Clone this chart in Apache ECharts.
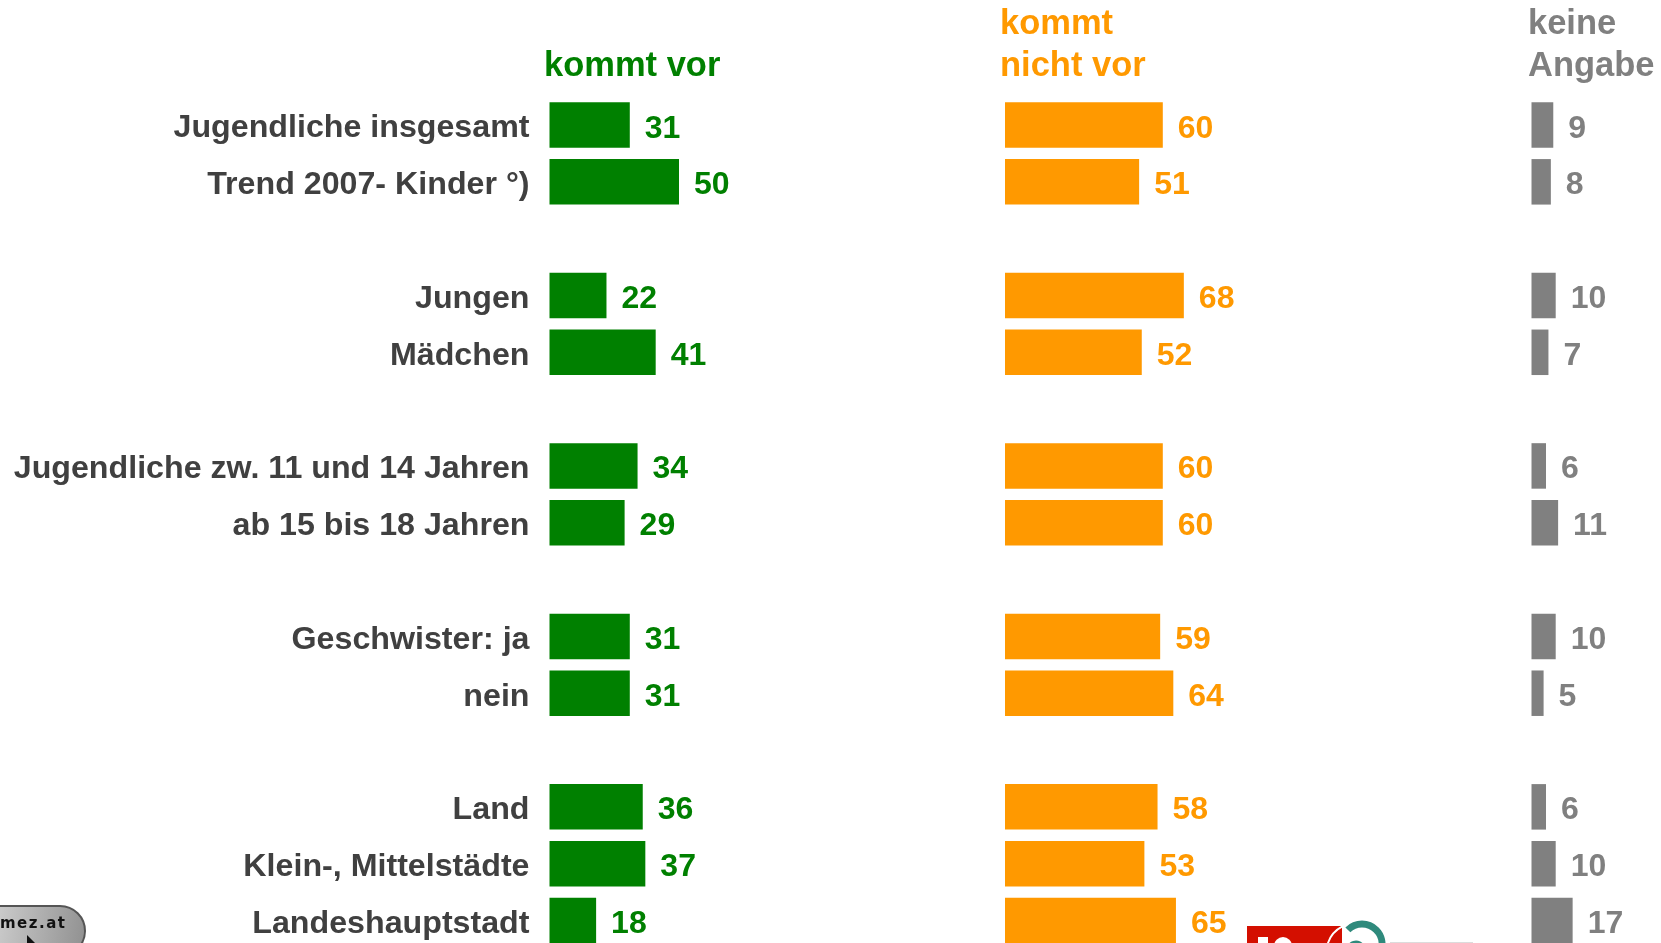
<!DOCTYPE html>
<html><head><meta charset="utf-8">
<style>html,body{margin:0;padding:0;background:#fff;overflow:hidden}#c{width:1661px;height:943px}</style>
<script src="https://cdn.jsdelivr.net/npm/echarts@6/dist/echarts.min.js"></script></head>
<body><div id="c"></div>
<script>
const categories = ['Jugendliche insgesamt','Trend 2007- Kinder °)','','Jungen','Mädchen','','Jugendliche zw. 11 und 14 Jahren','ab 15 bis 18 Jahren','','Geschwister: ja','nein','','Land','Klein-, Mittelstädte','Landeshauptstadt'];
const kommtVor = [31,50,null,22,41,null,34,29,null,31,31,null,36,37,18];
const kommtNichtVor = [60,51,null,68,52,null,60,60,null,59,64,null,58,53,65];
const keineAngabe = [9,8,null,10,7,null,6,11,null,10,5,null,6,10,17];
const GREEN='#008000', ORANGE='#FF9900', GREY='#808080', TEXT='#404040';
const FONT='"Liberation Sans", Arial, sans-serif';
const top0=96.6, h=852.3;
const panels=[
 {left:549.5,scale:2.59,max:100,data:kommtVor,color:GREEN,name:'kommt vor'},
 {left:1005,scale:2.63,max:100,data:kommtNichtVor,color:ORANGE,name:'kommt nicht vor'},
 {left:1531.5,scale:2.42,max:50,data:keineAngabe,color:GREY,name:'keine Angabe'}];
const grid=panels.map(p=>({left:p.left,top:top0,width:p.max*p.scale,height:h,outerBoundsMode:'none'}));
const xAxis=panels.map((p,i)=>({type:'value',gridIndex:i,min:0,max:p.max,show:false}));
const yAxis=panels.map((p,i)=>({type:'category',gridIndex:i,inverse:true,data:categories,
  axisLine:{show:false},axisTick:{show:false},splitLine:{show:false},
  axisLabel:i===0?{show:true,interval:0,margin:20,verticalAlign:'top',lineHeight:7,color:TEXT,fontFamily:FONT,fontWeight:'bold',fontSize:32.2}:{show:false}}));
const series=panels.map((p,i)=>({type:'bar',name:p.name,xAxisIndex:i,yAxisIndex:i,data:p.data,barWidth:45.5,
  itemStyle:{color:p.color},silent:true,clip:false,
  label:{show:true,position:'right',distance:15,offset:[0,3.7],color:p.color,fontFamily:FONT,fontWeight:'bold',fontSize:32}}));
const head=(x,y,t,c)=>({type:'text',left:x,top:y,silent:true,style:{text:t,fill:c,font:'bold 34.5px '+FONT,lineHeight:42}});
const graphic=[
 head(544,45,'kommt vor',GREEN),
 head(1000,3,'kommt\nnicht vor',ORANGE),
 head(1528,3,'keine\nAngabe',GREY),
 {type:'rect',shape:{x:-40,y:906,width:125,height:50,r:25},style:{fill:{type:'linear',x:0,y:0,x2:1,y2:0.4,colorStops:[{offset:0,color:'#e4e4e4'},{offset:1,color:'#929292'}]},stroke:'#555',lineWidth:2}},
 {type:'text',left:0,top:917,style:{text:'m\u200Ae\u200Az\u200A.\u200Aa\u200At',fill:'#111',font:'bold 15px "DejaVu Sans"'}},
 {type:'polygon',shape:{points:[[27,935],[40,948],[27,948]]},style:{fill:'#111'}},
 {type:'rect',shape:{x:1247,y:926,width:95,height:20},style:{fill:'#d40f00'}},
 {type:'rect',shape:{x:1258,y:937,width:10,height:8},style:{fill:'#fff'}},
 {type:'circle',shape:{cx:1283,cy:946,r:9},style:{fill:'#fff'}},
 {type:'arc',shape:{cx:1355,cy:952,r:28.5,startAngle:Math.PI*1.1,endAngle:Math.PI*1.65,clockwise:true},style:{fill:'none',stroke:'#fff',lineWidth:2}},
 {type:'arc',shape:{cx:1362,cy:944,r:20,startAngle:Math.PI*1.25,endAngle:Math.PI*2.1,clockwise:true},style:{fill:'none',stroke:'#2f8a7c',lineWidth:7}},
 {type:'arc',shape:{cx:1356,cy:950,r:8,startAngle:Math.PI*1.15,endAngle:Math.PI*1.85,clockwise:true},style:{fill:'none',stroke:'#2f8a7c',lineWidth:3}},
 {type:'rect',shape:{x:1390,y:942,width:83,height:1},style:{fill:'#dcdcdc'}}
];
const chart=echarts.init(document.getElementById('c'),null,{renderer:'canvas'});
chart.setOption({animation:false,backgroundColor:'#fff',grid,xAxis,yAxis,series,graphic});
</script></body></html>
